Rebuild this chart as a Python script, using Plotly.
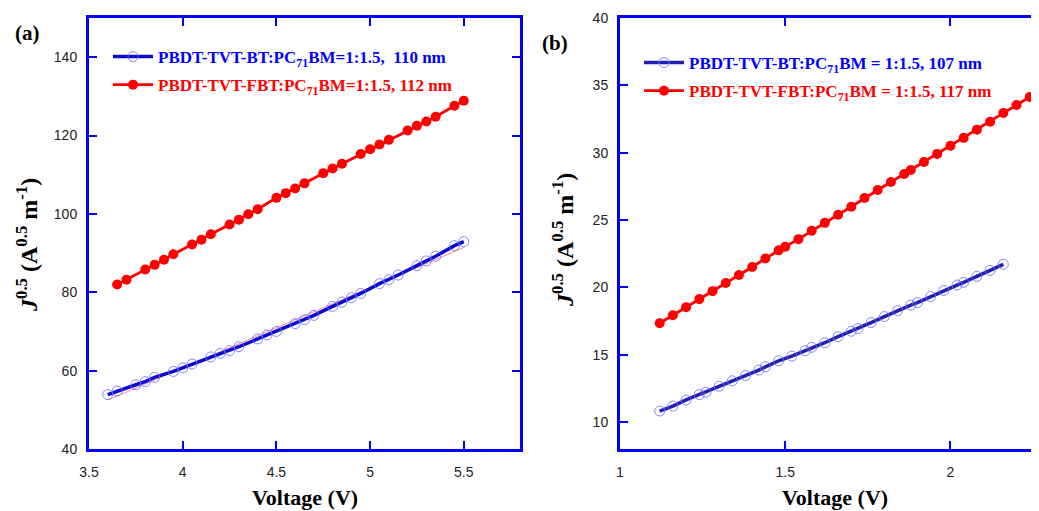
import numpy as np
import plotly.graph_objects as go

# ---------------- data: panel (a) ----------------
va_bt = [3.60, 3.65, 3.75, 3.80, 3.85, 3.95, 4.00, 4.05, 4.15, 4.20, 4.25, 4.30, 4.40, 4.45, 4.50,
         4.60, 4.65, 4.70, 4.80, 4.85, 4.90, 4.95, 5.05, 5.10, 5.15, 5.25, 5.30, 5.35, 5.45, 5.50]
ja_bt = [53.9, 54.8, 56.4, 57.2, 58.3, 59.8, 60.7, 61.7, 63.5, 64.4, 65.1, 66.1, 68.1, 69.1, 70.0,
         72.0, 73.0, 74.1, 76.4, 77.5, 78.6, 79.7, 82.2, 83.2, 84.4, 86.8, 88.0, 89.2, 91.9, 92.9]

va_fbt = [3.65, 3.70, 3.80, 3.85, 3.90, 3.95, 4.05, 4.10, 4.15, 4.25, 4.30, 4.35, 4.40, 4.50, 4.55,
          4.60, 4.65, 4.75, 4.80, 4.85, 4.95, 5.00, 5.05, 5.10, 5.20, 5.25, 5.30, 5.35, 5.45, 5.50]
ja_fbt = [82.0, 83.2, 85.8, 87.0, 88.3, 89.7, 92.2, 93.4, 94.8, 97.3, 98.5, 99.9, 101.2, 104.1, 105.3,
          106.5, 107.8, 110.4, 111.6, 112.8, 115.3, 116.5, 117.7, 118.9, 121.3, 122.5, 123.6, 124.8, 127.6, 128.9]

# ---------------- data: panel (b) ----------------
vb_bt = [1.12, 1.16, 1.20, 1.24, 1.26, 1.30, 1.34, 1.38, 1.42, 1.44, 1.48, 1.52, 1.56, 1.58, 1.62,
         1.66, 1.70, 1.72, 1.76, 1.80, 1.84, 1.88, 1.90, 1.94, 1.98, 2.02, 2.04, 2.08, 2.12, 2.16]
jb_bt = [10.82, 11.19, 11.64, 12.04, 12.21, 12.66, 13.06, 13.46, 13.86, 14.10, 14.55, 14.90, 15.29, 15.55, 15.89,
         16.34, 16.74, 16.94, 17.38, 17.83, 18.28, 18.68, 18.87, 19.32, 19.77, 20.17, 20.37, 20.82, 21.26, 21.71]

vb_fbt = [1.12, 1.16, 1.20, 1.24, 1.28, 1.32, 1.36, 1.40, 1.44, 1.48, 1.50, 1.54, 1.58, 1.62, 1.66,
          1.70, 1.74, 1.78, 1.82, 1.86, 1.88, 1.92, 1.96, 2.00, 2.04, 2.08, 2.12, 2.16, 2.20, 2.24]
jb_fbt = [17.34, 17.93, 18.53, 19.13, 19.72, 20.32, 20.92, 21.51, 22.15, 22.75, 23.02, 23.58, 24.20, 24.79, 25.39,
          25.99, 26.63, 27.23, 27.82, 28.42, 28.72, 29.31, 29.91, 30.51, 31.10, 31.70, 32.30, 32.95, 33.54, 34.14]

names_a = ["PBDT-TVT-BT:PC<sub>71</sub>BM=1:1.5,  110 nm",
           "PBDT-TVT-FBT:PC<sub>71</sub>BM=1:1.5, 112 nm"]
names_b = ["PBDT-TVT-BT:PC<sub>71</sub>BM = 1:1.5, 107 nm",
           "PBDT-TVT-FBT:PC<sub>71</sub>BM = 1:1.5, 117 nm"]

BLUE = "#0000ff"
RED = "#ff0000"
SERIF = "Liberation Serif"
SANS = "Liberation Sans"

# page has an 8px body margin: figure origin sits at (8, 8) in the window
OFF = 8
W, H = 1039 - OFF, 511 - OFF


def px(rx):
    return (rx - OFF) / W


def py(ry):
    return 1 - (ry - OFF) / H


fig = go.Figure()


def linfit(x, y):
    k, b = np.polyfit(x, y, 1)
    xs = np.array([x[0], x[-1]])
    return xs, k * xs + b


def add_panel(xa, ya, legend, vbt, jbt, vfbt, jfbt, names, bluecol):
    fx, fy = linfit(vbt, jbt)
    fig.add_trace(go.Scatter(x=fx, y=fy, mode="lines", xaxis=xa, yaxis=ya,
                             line=dict(color="rgba(255,60,60,0.6)", width=1),
                             showlegend=False, hoverinfo="skip"))
    fig.add_trace(go.Scatter(x=vbt, y=jbt, mode="lines+markers", xaxis=xa, yaxis=ya,
                             name="<span style='color:#0000ff'><b>" + names[0] + "</b></span>",
                             legend=legend, legendgroup=legend + "g1",
                             line=dict(color=bluecol, width=3.5),
                             marker=dict(symbol="circle-open", size=10,
                                         color="rgba(110,110,255,0.85)", line=dict(width=1))))
    fig.add_trace(go.Scatter(x=vfbt, y=jfbt, mode="lines+markers", xaxis=xa, yaxis=ya,
                             name="<span style='color:#ff0000'><b>" + names[1] + "</b></span>",
                             legend=legend, legendgroup=legend + "g2",
                             line=dict(color=RED, width=2.8),
                             marker=dict(symbol="circle", size=10, color=RED)))


add_panel("x", "y", "legend", va_bt, ja_bt, va_fbt, ja_fbt, names_a, "#0a0ad0")
add_panel("x2", "y2", "legend2", vb_bt, jb_bt, vb_fbt, jb_fbt, names_b, "#1f1fb0")

ydom = [py(449), py(18)]

axis_common = dict(showline=True, linecolor=BLUE, linewidth=3,
                   ticks="inside", ticklen=8, tickwidth=2, tickcolor=BLUE,
                   showgrid=False, zeroline=False, automargin=False,
                   tickfont=dict(family=SANS, size=14, color="#222"))

fig.update_layout(
    width=W, height=H,
    margin=dict(l=0, r=0, t=0, b=0, autoexpand=False),
    paper_bgcolor="white", plot_bgcolor="white",
    xaxis=dict(domain=[px(89), px(520)], range=[3.5, 5.8], dtick=0.5, tick0=3.5,
               anchor="y", ticklabelstandoff=8, mirror="allticks", **axis_common),
    yaxis=dict(domain=ydom, range=[40, 150], dtick=20, tick0=40,
               anchor="x", ticklabelstandoff=6, mirror="allticks", **axis_common),
    xaxis2=dict(domain=[px(620), 1.0], range=[1, 2.268], dtick=0.5, tick0=1,
                anchor="y2", ticklabelstandoff=8, mirror="allticks", **axis_common),
    yaxis2=dict(domain=ydom, range=[8, 40], dtick=5, tick0=10,
                anchor="x2", ticklabelstandoff=6, mirror=False, **axis_common),
    legend=dict(x=px(108), xanchor="left", y=py(39), yanchor="top",
                bgcolor="rgba(0,0,0,0)", itemwidth=40, tracegroupgap=3,
                font=dict(family=SERIF, size=17, color=BLUE)),
    legend2=dict(x=px(639), xanchor="left", y=py(45), yanchor="top",
                 bgcolor="rgba(0,0,0,0)", itemwidth=40, tracegroupgap=3,
                 font=dict(family=SERIF, size=17, color=BLUE)),
    showlegend=True,
)

title_font = dict(family=SERIF, size=22, color="black")
ytitle_font = dict(family=SERIF, size=24, color="black")
ytitle = "<b><i>J</i><sup>0.5</sup> (A<sup>0.5</sup> m<sup>-1</sup>)</b>"
annotations = [
    dict(text="<b>(a)</b>", x=px(27), y=py(33), font=dict(family=SERIF, size=21, color="black")),
    dict(text="<b>(b)</b>", x=px(555), y=py(43), font=dict(family=SERIF, size=21, color="black")),
    dict(text="<b>Voltage (V)</b>", x=px(305), y=py(497), font=title_font),
    dict(text="<b>Voltage (V)</b>", x=px(835), y=py(497), font=title_font),
    dict(text=ytitle, x=px(27), y=py(245), textangle=-90, font=ytitle_font),
    dict(text=ytitle, x=px(563), y=py(240), textangle=-90, font=ytitle_font),
]
for a in annotations:
    fig.add_annotation(xref="paper", yref="paper", showarrow=False,
                       xanchor="center", yanchor="middle", **a)

fig.write_html("out.html")
